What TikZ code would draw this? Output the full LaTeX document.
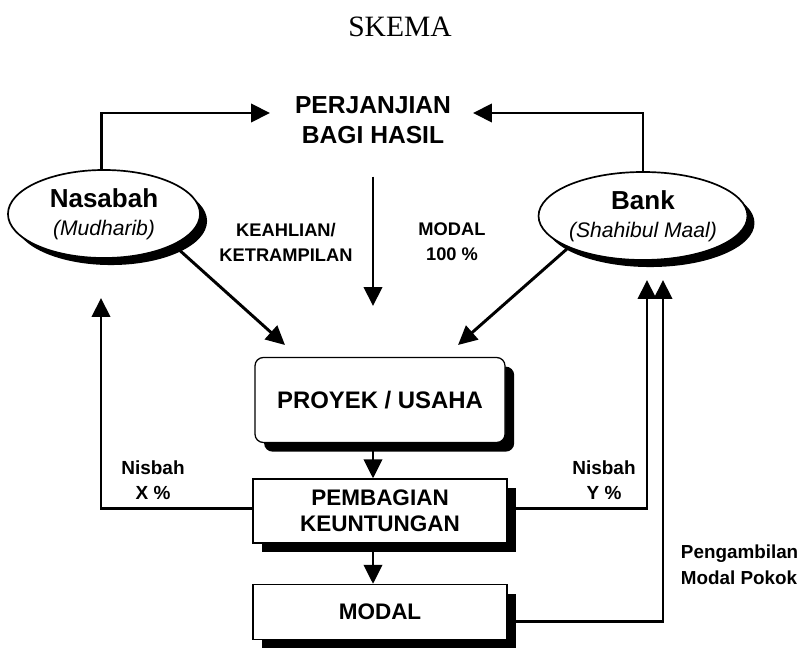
\documentclass[tikz,border=0pt]{standalone}
\usepackage{fontspec}
\setmainfont{Liberation Serif}
\setsansfont{Liberation Sans}
\usetikzlibrary{shapes.geometric,shadows,arrows.meta}

\begin{document}
\begin{tikzpicture}[x=0.025cm,y=-0.025cm,
	every node/.style={font=\sffamily\bfseries,align=center},
	arr/.style={line width=2.1pt,-{Triangle[length=13.5pt,width=13pt]}},
	oval/.style={ellipse,draw,line width=1.2pt,fill=white,minimum width=4.8cm,minimum height=2.2cm,inner sep=0pt,
		font=\sffamily\bfseries\fontsize{15}{20}\selectfont,
		drop shadow={shadow xshift=5pt,shadow yshift=-5pt,fill=black,opacity=1}},
	box/.style={draw,line width=0.9pt,fill=white,minimum width=6.35cm,inner sep=0pt,
		drop shadow={shadow xshift=6.5pt,shadow yshift=-6.5pt,fill=black,opacity=1}}]
	\useasboundingbox (0,0) rectangle (802,648);
	\node[font=\rmfamily\fontsize{21}{25}\selectfont] (judul) at (400,27) {SKEMA};
	\node[font=\sffamily\bfseries\fontsize{17.5}{21.3}\selectfont] (perjanjian) at (373,120) {PERJANJIAN\\BAGI HASIL};
	\node[oval] (nasabah) at (104,214) {{\fontsize{18.5}{20}\selectfont Nasabah}\\{\mdseries\itshape (Mudharib)}};
	\node[oval] (bank) at (643,216) {{\fontsize{18.5}{20}\selectfont Bank}\\{\mdseries\itshape (Shahibul Maal)}};
	\node[font=\sffamily\bfseries\fontsize{13}{17.8}\selectfont] (keahlian) at (286,242) {KEAHLIAN/\\KETRAMPILAN};
	\node[font=\sffamily\bfseries\fontsize{13}{17.8}\selectfont] (modal100) at (452,242) {MODAL\\100 \%};
	\node[box,rounded corners=6pt,minimum width=6.25cm,minimum height=2.125cm,font=\sffamily\bfseries\fontsize{17}{20}\selectfont] (proyek) at (380,400) {PROYEK / USAHA};
	\node[box,minimum height=1.6cm,font=\sffamily\bfseries\fontsize{16}{18.5}\selectfont] (pembagian) at (380,511) {PEMBAGIAN\\KEUNTUNGAN};
	\node[box,minimum height=1.375cm,font=\sffamily\bfseries\fontsize{16}{18.5}\selectfont] (modal) at (380,612) {MODAL};
	\node[font=\sffamily\bfseries\fontsize{13.5}{17.8}\selectfont] (nisbahx) at (153,480) {Nisbah\\X \%};
	\node[font=\sffamily\bfseries\fontsize{13.5}{17.8}\selectfont] (nisbahy) at (604,480) {Nisbah\\Y \%};
	\node[font=\sffamily\bfseries\fontsize{13.4}{18.5}\selectfont,align=left,anchor=west] (ambil) at (676,565) {Pengambilan\\Modal Pokok};
	% ujung panah
	\coordinate (kiriatas) at (270,113);
	\coordinate (kananatas) at (473,113);
	\coordinate (tengah) at (373,306);
	\coordinate (diagkiri) at (285,345);
	\coordinate (diagkanan) at (458,345);
	\coordinate (masukkiri) at (101,298);
	\coordinate (masukbank1) at (647,280);
	\coordinate (masukbank2) at (663,280);
	\draw[arr] ([xshift=-2pt]nasabah.north) |- (kiriatas);
	\draw[arr] (bank.north) |- (kananatas);
	\draw[arr] (perjanjian.south) ++(0,28) -- (tengah);
	\draw[arr] (nasabah.-24) -- (diagkiri);
	\draw[arr] (bank.203) -- (diagkanan);
	\draw[arr] (proyek.south -| perjanjian.south) -- (pembagian.north -| perjanjian.south);
	\draw[arr] ([yshift=-6pt]pembagian.south -| perjanjian.south) -- (modal.north -| perjanjian.south);
	\draw[arr] ([yshift=2pt]pembagian.west) -| (masukkiri);
	\draw[arr] ([yshift=2pt]pembagian.east) -| (masukbank1);
	\draw[arr] ([yshift=-7pt]modal.east) -| (masukbank2);
\end{tikzpicture}
\end{document}
